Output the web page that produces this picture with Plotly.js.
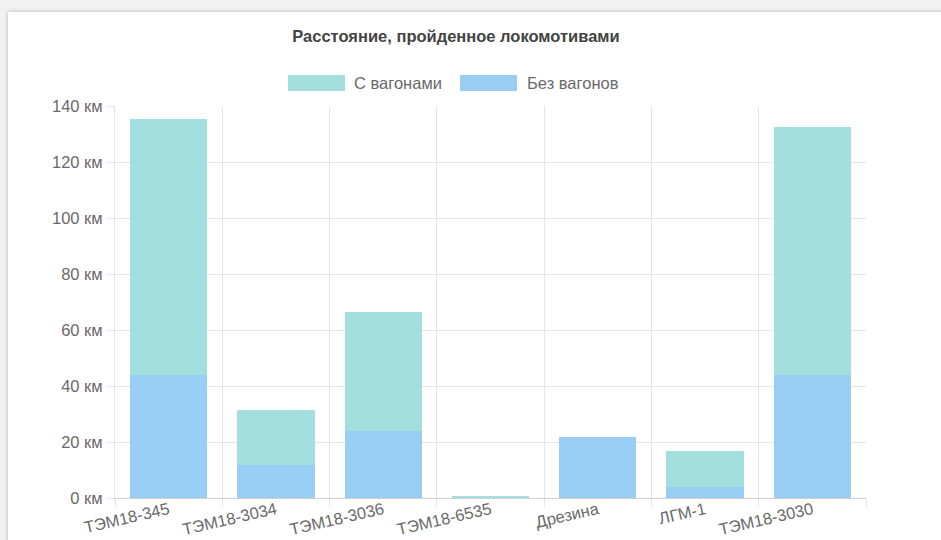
<!DOCTYPE html>
<html>
<head>
<meta charset="utf-8">
<script src="https://cdn.plot.ly/plotly-3.0.1.min.js"></script>
<style>
  html, body { margin: 0; padding: 0; width: 941px; height: 540px; overflow: hidden; background: #f1f1f1; }
  #card { position: absolute; left: 8px; top: 12px; width: 960px; height: 560px; background: #fff;
          box-shadow: 0 0 4px rgba(0,0,0,0.25); }
  #chart { position: absolute; left: 0; top: 0; width: 941px; height: 540px; }
</style>
</head>
<body>
<div id="card"></div>
<div id="chart"></div>
<script>
// Локомотивы
const categories = ['ТЭМ18-345', 'ТЭМ18-3034', 'ТЭМ18-3036', 'ТЭМ18-6535', 'Дрезина', 'ЛГМ-1', 'ТЭМ18-3030'];
// Пробег без вагонов, км
const withoutWagons = [43.8, 11.9, 23.9, 0, 21.8, 4.0, 44.1];
// Пробег с вагонами, км (над пробегом без вагонов)
const withWagons = [91.6, 19.4, 42.4, 0.6, 0, 12.9, 88.3];
const seriesNames = ['С вагонами', 'Без вагонов'];
const yTicks = [0, 20, 40, 60, 80, 100, 120, 140];

const W = 941, H = 540;
const M = { l: 115, r: 75, t: 106, b: 42 };
const plotW = W - M.l - M.r, plotH = H - M.t - M.b;
const px2x = p => (p - M.l) / plotW;
const py2y = p => (H - M.b - p) / plotH;

const font = 'Liberation Sans, Arial, Helvetica, sans-serif';
const teal = '#a3dfdf', blue = '#98cdf4', grid = '#e5e5e5';

const traces = [
  { type: 'bar', name: seriesNames[1], x: categories, y: withoutWagons,
    marker: { color: blue, line: { width: 0 } }, hoverinfo: 'y+name' },
  { type: 'bar', name: seriesNames[0], x: categories, y: withWagons,
    marker: { color: teal, line: { width: 0 } }, hoverinfo: 'y+name' }
];

// Легенда: цветные плашки и подписи над областью графика
const legendY = 83, boxH = 16;
const legendItems = [
  { name: seriesNames[0], color: teal, box: 288, text: 352 },
  { name: seriesNames[1], color: blue, box: 460, text: 525 }
];
const shapes = legendItems.map(it => ({
  type: 'rect', xref: 'paper', yref: 'paper',
  x0: px2x(it.box), x1: px2x(it.box + 57),
  y0: py2y(legendY + boxH / 2), y1: py2y(legendY - boxH / 2),
  fillcolor: it.color, line: { width: 0 }
}));
const annotations = legendItems.map(it => ({
  xref: 'paper', yref: 'paper', x: px2x(it.text), y: py2y(legendY),
  xanchor: 'left', yanchor: 'middle', showarrow: false,
  text: it.name, font: { family: font, size: 16.5, color: '#6a6a6a' }
}));

const layout = {
  width: W, height: H,
  margin: M,
  paper_bgcolor: 'rgba(0,0,0,0)',
  plot_bgcolor: 'rgba(0,0,0,0)',
  barmode: 'stack',
  bargap: 0.28,
  showlegend: false,
  font: { family: font, size: 16, color: '#666' },
  title: {
    text: '<b>Расстояние, пройденное локомотивами</b>',
    xref: 'container', yref: 'container',
    x: 456 / W, y: 1 - 36 / H, xanchor: 'center', yanchor: 'middle',
    font: { family: font, size: 16.5, color: '#444' }
  },
  xaxis: {
    type: 'category',
    tickson: 'boundaries',
    ticks: 'outside', ticklen: 8, tickcolor: grid,
    ticklabelstandoff: -5,
    showgrid: true, gridcolor: grid, gridwidth: 1,
    showline: true, linecolor: '#cfcfcf', linewidth: 1,
    tickangle: -13,
    tickfont: { family: font, size: 16.5, color: '#6a6a6a' },
    fixedrange: true
  },
  yaxis: {
    range: [0, 140],
    tickvals: yTicks,
    ticktext: yTicks.map(v => v + ' км'),
    ticks: 'outside', ticklen: 8, tickcolor: grid,
    showgrid: true, gridcolor: grid, gridwidth: 1,
    zeroline: false,
    showline: true, linecolor: grid, linewidth: 1,
    tickfont: { family: font, size: 16.5, color: '#6a6a6a' },
    fixedrange: true
  },
  shapes: shapes,
  annotations: annotations
};

Plotly.newPlot('chart', traces, layout, { displayModeBar: false });
</script>
</body>
</html>
